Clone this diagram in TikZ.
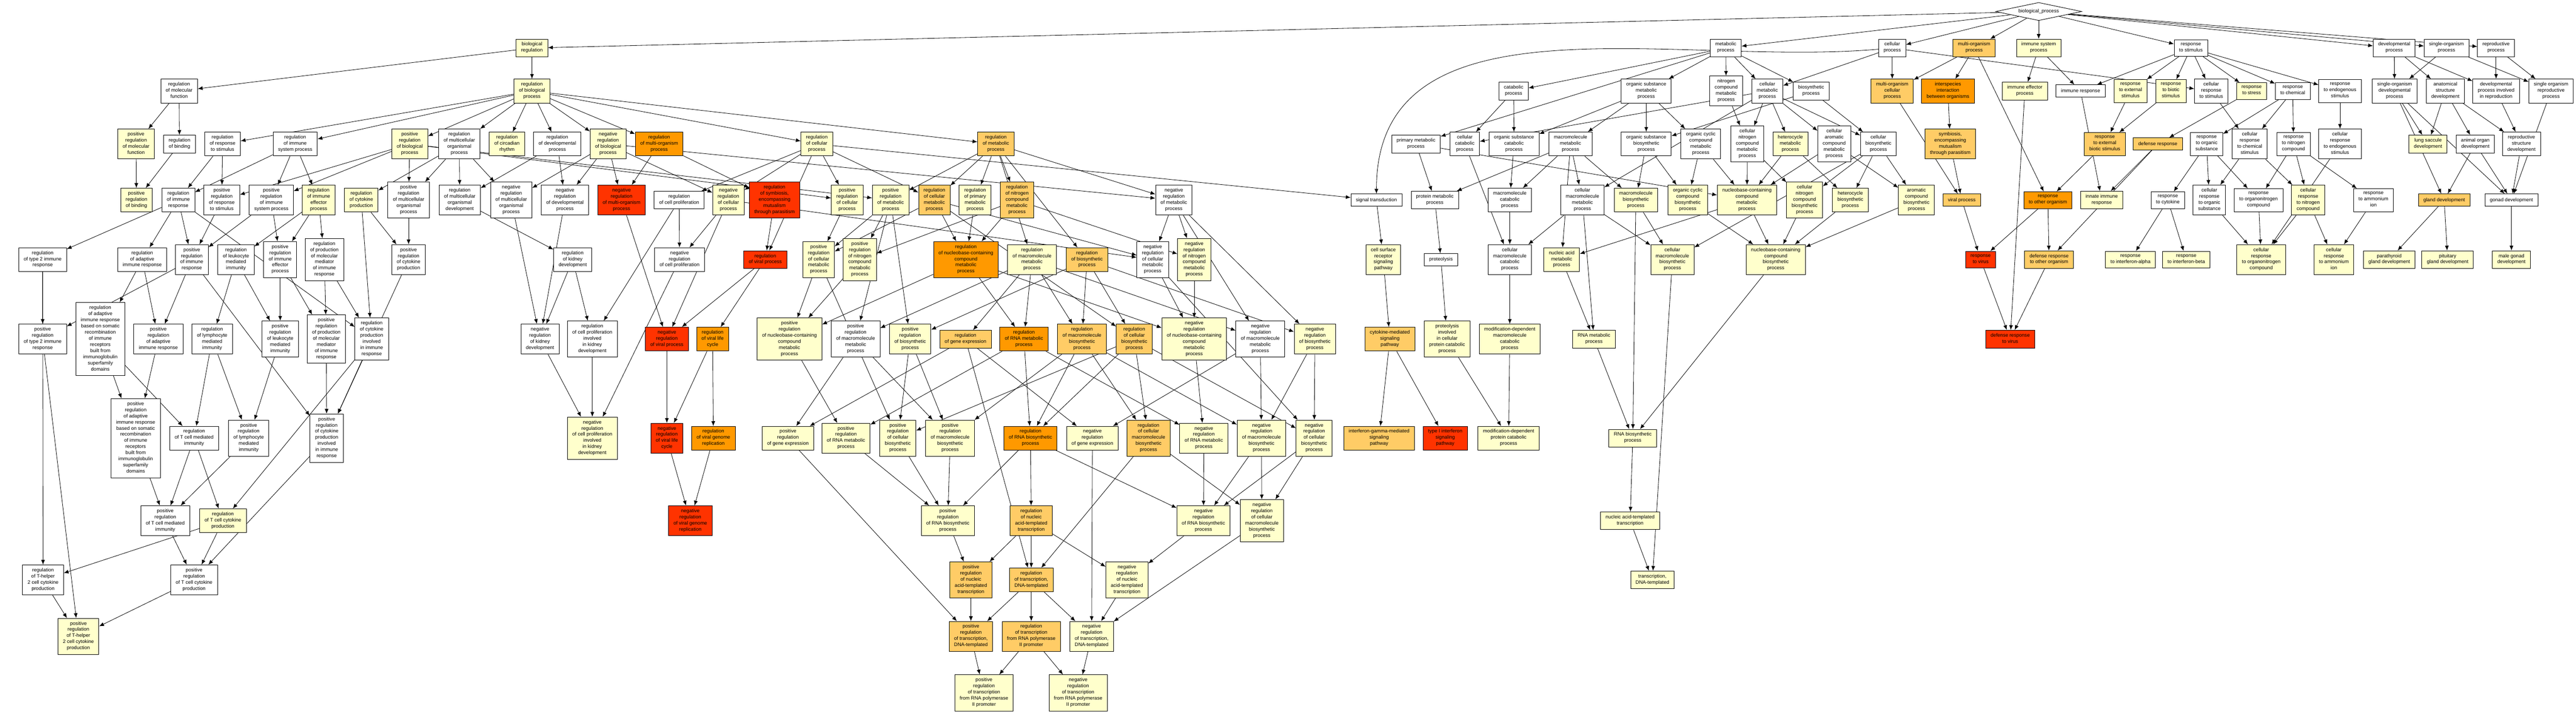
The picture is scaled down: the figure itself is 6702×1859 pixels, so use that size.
\documentclass[tikz,border=0pt]{standalone}
\usepackage{fontspec}
\setmainfont{Liberation Sans}
\usetikzlibrary{arrows.meta,shapes.geometric,backgrounds}
\definecolor{pvnone}{HTML}{FFFFFF}
\definecolor{pvlow}{HTML}{FFFFCC}
\definecolor{pvmid}{HTML}{FFCC66}
\definecolor{pvhigh}{HTML}{FF9900}
\definecolor{pvtop}{HTML}{FF3300}
\tikzset{
  term/.style={draw, line width=0.6pt, align=center, inner xsep=6.5pt, inner ysep=4pt,
    font=\fontsize{6.4pt}{8pt}\selectfont, execute at begin node=\strut, execute at end node=\strut},
  t0/.style={term, fill=pvnone},
  t1/.style={term, fill=pvlow},
  t2/.style={term, fill=pvmid},
  t3/.style={term, fill=pvhigh},
  t4/.style={term, fill=pvtop},
  rootterm/.style={draw, diamond, aspect=4.8, inner sep=0pt, line width=0.6pt, fill=white,
    minimum width=112pt, minimum height=23.5pt, font=\fontsize{6.4pt}{8pt}\selectfont},
  isa/.style={-{Latex[length=6.3pt,width=5pt]}, line width=0.55pt}
}
\begin{document}
\begin{tikzpicture}[x=0.5pt,y=-0.5pt]
    \useasboundingbox (0,0) rectangle (6702,1859);
    % one row of terms per rank, top to bottom
    \node[rootterm] (bioproc) at (5304,30) {biological\_process};

    \node[t1] (bioreg) at (1384,125) {biological\\regulation};
    \node[t0] (metproc) at (4490,125) {metabolic\\process};
    \node[t0] (cellproc) at (4923,125) {cellular\\process};
    \node[t2] (multiorg) at (5136,125) {multi-organism\\process};
    \node[t1] (immsys) at (5304,125) {immune system\\process};
    \node[t0] (respstim) at (5700,125) {response\\to stimulus};
    \node[t0] (devproc) at (6229,125) {developmental\\process};
    \node[t0] (singleorg) at (6365,125) {single-organism\\process};
    \node[t0] (reproproc) at (6494,125) {reproductive\\process};

    \node[t0] (regmolfunc) at (466,237) {regulation\\of molecular\\function};
    \node[t1] (regbioproc) at (1384,237) {regulation\\of biological\\process};
    \node[t0] (catabolic) at (3938,237) {catabolic\\process};
    \node[t0] (orgsubmet) at (4283,237) {organic substance\\metabolic\\process};
    \node[t0] (nitromet) at (4491,237) {nitrogen\\compound\\metabolic\\process};
    \node[t0] (cellmet) at (4598,237) {cellular\\metabolic\\process};
    \node[t0] (biosyn) at (4712,237) {biosynthetic\\process};
    \node[t2] (multiorgcell) at (4923,237) {multi-organism\\cellular\\process};
    \node[t3] (interspecies) at (5068,237) {interspecies\\interaction\\between organisms};
    \node[t1] (immeff) at (5268,237) {immune effector\\process};
    \node[t0] (immresp) at (5413,237) {immune response};
    \node[t1] (respext) at (5543,237) {response\\to external\\stimulus};
    \node[t1] (respbiotic) at (5648,237) {response\\to biotic\\stimulus};
    \node[t0] (cellrespstim) at (5753,237) {cellular\\response\\to stimulus};
    \node[t1] (respstress) at (5858,237) {response\\to stress};
    \node[t0] (respchem) at (5965,237) {response\\to chemical};
    \node[t0] (respendo) at (6088,237) {response\\to endogenous\\stimulus};
    \node[t0] (singleorgdev) at (6230,237) {single-organism\\developmental\\process};
    \node[t0] (anatomical) at (6362,237) {anatomical\\structure\\development};
    \node[t0] (devrepro) at (6494,237) {developmental\\process involved\\in reproduction};
    \node[t0] (singleorgrepro) at (6637,237) {single organism\\reproductive\\process};

    \node[t1] (posregmolfunc) at (354,375) {positive\\regulation\\of molecular\\function};
    \node[t0] (regbinding) at (467,375) {regulation\\of binding};
    \node[t0] (regrespstim) at (579,375) {regulation\\of response\\to stimulus};
    \node[t0] (regimmsys) at (768,375) {regulation\\of immune\\system process};
    \node[t1] (posregbioproc) at (1066,375) {positive\\regulation\\of biological\\process};
    \node[t0] (regmulticellorg) at (1195,375) {regulation\\of multicellular\\organismal\\process};
    \node[t1] (regcirc) at (1319,375) {regulation\\of circadian\\rhythm};
    \node[t0] (regdev) at (1450,375) {regulation\\of developmental\\process};
    \node[t1] (negregbio) at (1582,375) {negative\\regulation\\of biological\\process};
    \node[t3] (regmultiorg) at (1715,375) {regulation\\of multi-organism\\process};
    \node[t1] (regcellproc) at (2125,375) {regulation\\of cellular\\process};
    \node[t2] (regmet) at (2591,375) {regulation\\of metabolic\\process};
    \node[t0] (primmet) at (3684,375) {primary metabolic\\process};
    \node[t0] (cellcatab) at (3811,375) {cellular\\catabolic\\process};
    \node[t0] (orgsubcatab) at (3939,375) {organic substance\\catabolic\\process};
    \node[t0] (macromet) at (4086,375) {macromolecule\\metabolic\\process};
    \node[t0] (orgsubbiosyn) at (4283,375) {organic substance\\biosynthetic\\process};
    \node[t0] (orgcyclicmet) at (4425,375) {organic cyclic\\compound\\metabolic\\process};
    \node[t0] (cellnitromet) at (4546,375) {cellular\\nitrogen\\compound\\metabolic\\process};
    \node[t1] (heteromet) at (4658,375) {heterocycle\\metabolic\\process};
    \node[t0] (cellaromatic) at (4772,375) {cellular\\aromatic\\compound\\metabolic\\process};
    \node[t0] (cellbiosyn) at (4887,375) {cellular\\biosynthetic\\process};
    \node[t2] (symbiosis) at (5074,375) {symbiosis,\\encompassing\\mutualism\\through parasitism};
    \node[t2] (respextbiotic) at (5476,375) {response\\to external\\biotic stimulus};
    \node[t2] (defense) at (5614,375) {defense response};
    \node[t0] (resporganic) at (5741,375) {response\\to organic\\substance};
    \node[t0] (cellrespchem) at (5853,375) {cellular\\response\\to chemical\\stimulus};
    \node[t0] (respnitro) at (5967,375) {response\\to nitrogen\\compound};
    \node[t0] (cellrespendo) at (6088,375) {cellular\\response\\to endogenous\\stimulus};
    \node[t1] (lung) at (6317,375) {lung saccule\\development};
    \node[t0] (animalorgan) at (6440,375) {animal organ\\development};
    \node[t0] (reprostruct) at (6560,375) {reproductive\\structure\\development};

    \node[t1] (posregbinding) at (355,521) {positive\\regulation\\of binding};
    \node[t0] (regimmresp) at (464,521) {regulation\\of immune\\response};
    \node[t0] (posregrespstim) at (577,521) {positive\\regulation\\of response\\to stimulus};
    \node[t0] (posregimmsys) at (706,521) {positive\\regulation\\of immune\\system process};
    \node[t1] (regimmeff) at (829,521) {regulation\\of immune\\effector\\process};
    \node[t1] (regcytprod) at (940,521) {regulation\\of cytokine\\production};
    \node[t0] (posregmulticell) at (1063,521) {positive\\regulation\\of multicellular\\organismal\\process};
    \node[t0] (regmulticelldev) at (1196,521) {regulation\\of multicellular\\organismal\\development};
    \node[t0] (negregmulticell) at (1330,521) {negative\\regulation\\of multicellular\\organismal\\process};
    \node[t0] (negregdev) at (1470,521) {negative\\regulation\\of developmental\\process};
    \node[t4] (negregmultiorg) at (1617,521) {negative\\regulation\\of multi-organism\\process};
    \node[t0] (regcellprolif) at (1767,521) {regulation\\of cell proliferation};
    \node[t1] (negregcell) at (1895,521) {negative\\regulation\\of cellular\\process};
    \node[t4] (regsymb) at (2015,521) {regulation\\of symbiosis,\\encompassing\\mutualism\\through parasitism};
    \node[t1] (posregcell) at (2204,521) {positive\\regulation\\of cellular\\process};
    \node[t1] (posregmet) at (2317,521) {positive\\regulation\\of metabolic\\process};
    \node[t2] (regcellmet) at (2431,521) {regulation\\of cellular\\metabolic\\process};
    \node[t1] (regprimmet) at (2537,521) {regulation\\of primary\\metabolic\\process};
    \node[t2] (regnitro) at (2646,521) {regulation\\of nitrogen\\compound\\metabolic\\process};
    \node[t0] (negregmet) at (3054,521) {negative\\regulation\\of metabolic\\process};
    \node[t0] (signal) at (3581,521) {signal transduction};
    \node[t0] (protmet) at (3733,521) {protein metabolic\\process};
    \node[t0] (macrocatab) at (3928,521) {macromolecule\\catabolic\\process};
    \node[t0] (cellmacromet) at (4117,521) {cellular\\macromolecule\\metabolic\\process};
    \node[t1] (macrobiosyn) at (4256,521) {macromolecule\\biosynthetic\\process};
    \node[t1] (orgcyclicbiosyn) at (4391,521) {organic cyclic\\compound\\biosynthetic\\process};
    \node[t1] (nucleomet) at (4545,521) {nucleobase-containing\\compound\\metabolic\\process};
    \node[t1] (cellnitrobiosyn) at (4695,521) {cellular\\nitrogen\\compound\\biosynthetic\\process};
    \node[t1] (heterobiosyn) at (4814,521) {heterocycle\\biosynthetic\\process};
    \node[t1] (aromaticbiosyn) at (4986,521) {aromatic\\compound\\biosynthetic\\process};
    \node[t2] (viralproc) at (5104,521) {viral process};
    \node[t3] (respother) at (5328,521) {response\\to other organism};
    \node[t1] (innate) at (5468,521) {innate immune\\response};
    \node[t0] (respcytokine) at (5640,521) {response\\to cytokine};
    \node[t0] (cellresporganic) at (5748,521) {cellular\\response\\to organic\\substance};
    \node[t0] (resporganonitro) at (5876,521) {response\\to organonitrogen\\compound};
    \node[t1] (cellrespnitro) at (6005,521) {cellular\\response\\to nitrogen\\compound};
    \node[t0] (respammonium) at (6175,521) {response\\to ammonium\\ion};
    \node[t2] (gland) at (6359,521) {gland development};
    \node[t0] (gonad) at (6534,521) {gonad development};

    \node[t0] (regtype2) at (111,676) {regulation\\of type 2 immune\\response};
    \node[t0] (regadaptive) at (370,676) {regulation\\of adaptive\\immune response};
    \node[t0] (posregimmresp) at (499,676) {positive\\regulation\\of immune\\response};
    \node[t0] (regleukmed) at (614,676) {regulation\\of leukocyte\\mediated\\immunity};
    \node[t0] (posregimmeff) at (729,676) {positive\\regulation\\of immune\\effector\\process};
    \node[t0] (regprodmolmed) at (844,676) {regulation\\of production\\of molecular\\mediator\\of immune\\response};
    \node[t0] (posregcytprod) at (1063,676) {positive\\regulation\\of cytokine\\production};
    \node[t0] (regkidney) at (1490,676) {regulation\\of kidney\\development};
    \node[t0] (negregprolif) at (1768,676) {negative\\regulation\\of cell proliferation};
    \node[t4] (regviral) at (1991,676) {regulation\\of viral process};
    \node[t1] (posregcellmet) at (2130,676) {positive\\regulation\\of cellular\\metabolic\\process};
    \node[t1] (posregnitro) at (2237,676) {positive\\regulation\\of nitrogen\\compound\\metabolic\\process};
    \node[t3] (regnucleo) at (2513,676) {regulation\\of nucleobase-containing\\compound\\metabolic\\process};
    \node[t1] (regmacromet) at (2685,676) {regulation\\of macromolecule\\metabolic\\process};
    \node[t2] (regbiosyn) at (2828,676) {regulation\\of biosynthetic\\process};
    \node[t0] (negregcellmet) at (2999,676) {negative\\regulation\\of cellular\\metabolic\\process};
    \node[t1] (negregnitro) at (3107,676) {negative\\regulation\\of nitrogen\\compound\\metabolic\\process};
    \node[t1] (cellsurf) at (3599,676) {cell surface\\receptor\\signaling\\pathway};
    \node[t0] (proteolysis) at (3749,676) {proteolysis};
    \node[t0] (cellmacrocatab) at (3928,676) {cellular\\macromolecule\\catabolic\\process};
    \node[t1] (nucleicmet) at (4063,676) {nucleic acid\\metabolic\\process};
    \node[t1] (cellmacrobiosyn) at (4351,676) {cellular\\macromolecule\\biosynthetic\\process};
    \node[t1] (nucleobiosyn) at (4620,676) {nucleobase-containing\\compound\\biosynthetic\\process};
    \node[t4] (respvirus) at (5153,676) {response\\to virus};
    \node[t2] (defother) at (5331,676) {defense response\\to other organism};
    \node[t1] (respifnalpha) at (5543,676) {response\\to interferon-alpha};
    \node[t1] (respifnbeta) at (5688,676) {response\\to interferon-beta};
    \node[t1] (cellresporganonitro) at (5883,676) {cellular\\response\\to organonitrogen\\compound};
    \node[t1] (cellrespammonium) at (6072,676) {cellular\\response\\to ammonium\\ion};
    \node[t1] (parathyroid) at (6216,676) {parathyroid\\gland development};
    \node[t1] (pituitary) at (6368,676) {pituitary\\gland development};
    \node[t1] (malegonad) at (6534,676) {male gonad\\development};

    \node[t0] (posregtype2) at (111,883) {positive\\regulation\\of type 2 immune\\response};
    \node[t0] (regadaptsomatic) at (261,883) {regulation\\of adaptive\\immune response\\based on somatic\\recombination\\of immune\\receptors\\built from\\immunoglobulin\\superfamily\\domains};
    \node[t0] (posregadaptive) at (412,883) {positive\\regulation\\of adaptive\\immune response};
    \node[t0] (reglymphmed) at (552,883) {regulation\\of lymphocyte\\mediated\\immunity};
    \node[t0] (posregleukmed) at (729,883) {positive\\regulation\\of leukocyte\\mediated\\immunity};
    \node[t0] (posregprodmolmed) at (849,883) {positive\\regulation\\of production\\of molecular\\mediator\\of immune\\response};
    \node[t0] (regcytimm) at (967,883) {regulation\\of cytokine\\production\\involved\\in immune\\response};
    \node[t0] (negregkidney) at (1405,883) {negative\\regulation\\of kidney\\development};
    \node[t0] (regprolifkidney) at (1541,883) {regulation\\of cell proliferation\\involved\\in kidney\\development};
    \node[t4] (negregviral) at (1735,883) {negative\\regulation\\of viral process};
    \node[t3] (regviralcycle) at (1854,883) {regulation\\of viral life\\cycle};
    \node[t1] (posregnucleo) at (2054,883) {positive\\regulation\\of nucleobase-containing\\compound\\metabolic\\process};
    \node[t0] (posregmacro) at (2226,883) {positive\\regulation\\of macromolecule\\metabolic\\process};
    \node[t1] (posregbiosyn) at (2368,883) {positive\\regulation\\of biosynthetic\\process};
    \node[t2] (reggeneexp) at (2512,883) {regulation\\of gene expression};
    \node[t3] (regRNAmet) at (2664,883) {regulation\\of RNA metabolic\\process};
    \node[t2] (regmacrobiosyn) at (2815,883) {regulation\\of macromolecule\\biosynthetic\\process};
    \node[t2] (regcellbiosyn) at (2951,883) {regulation\\of cellular\\biosynthetic\\process};
    \node[t1] (negregnucleo) at (3107,883) {negative\\regulation\\of nucleobase-containing\\compound\\metabolic\\process};
    \node[t0] (negregmacromet) at (3279,883) {negative\\regulation\\of macromolecule\\metabolic\\process};
    \node[t1] (negregbiosyn) at (3421,883) {negative\\regulation\\of biosynthetic\\process};
    \node[t2] (cytokinesig) at (3616,883) {cytokine-mediated\\signaling\\pathway};
    \node[t1] (proteolysiscat) at (3765,883) {proteolysis\\involved\\in cellular\\protein catabolic\\process};
    \node[t1] (moddepmacro) at (3928,883) {modification-dependent\\macromolecule\\catabolic\\process};
    \node[t1] (RNAmet) at (4147,883) {RNA metabolic\\process};
    \node[t4] (defvirus) at (5230,883) {defense response\\to virus};

    \node[t0] (posregadaptsomatic) at (353,1141) {positive\\regulation\\of adaptive\\immune response\\based on somatic\\recombination\\of immune\\receptors\\built from\\immunoglobulin\\superfamily\\domains};
    \node[t0] (regTmed) at (505,1141) {regulation\\of T cell mediated\\immunity};
    \node[t0] (posreglymphmed) at (647,1141) {positive\\regulation\\of lymphocyte\\mediated\\immunity};
    \node[t0] (posregcytimm) at (850,1141) {positive\\regulation\\of cytokine\\production\\involved\\in immune\\response};
    \node[t1] (negregprolifkidney) at (1541,1141) {negative\\regulation\\of cell proliferation\\involved\\in kidney\\development};
    \node[t4] (negregviralcycle) at (1735,1141) {negative\\regulation\\of viral life\\cycle};
    \node[t3] (regviralgenome) at (1856,1141) {regulation\\of viral genome\\replication};
    \node[t1] (posreggeneexp) at (2050,1141) {positive\\regulation\\of gene expression};
    \node[t1] (posregRNAmet) at (2201,1141) {positive\\regulation\\of RNA metabolic\\process};
    \node[t1] (posregcellbiosyn) at (2336,1141) {positive\\regulation\\of cellular\\biosynthetic\\process};
    \node[t1] (posregmacrobiosyn) at (2472,1141) {positive\\regulation\\of macromolecule\\biosynthetic\\process};
    \node[t3] (regRNAbiosyn) at (2681,1141) {regulation\\of RNA biosynthetic\\process};
    \node[t1] (negreggeneexp) at (2842,1141) {negative\\regulation\\of gene expression};
    \node[t2] (regcellmacrobiosyn) at (2988,1141) {regulation\\of cellular\\macromolecule\\biosynthetic\\process};
    \node[t1] (negregRNAmet) at (3132,1141) {negative\\regulation\\of RNA metabolic\\process};
    \node[t1] (negregmacrobiosyn) at (3282,1141) {negative\\regulation\\of macromolecule\\biosynthetic\\process};
    \node[t1] (negregcellbiosyn) at (3419,1141) {negative\\regulation\\of cellular\\biosynthetic\\process};
    \node[t2] (ifngamma) at (3588,1141) {interferon-gamma-mediated\\signaling\\pathway};
    \node[t4] (typeIifn) at (3760,1141) {type I interferon\\signaling\\pathway};
    \node[t1] (moddepprot) at (3925,1141) {modification-dependent\\protein catabolic\\process};
    \node[t1] (RNAbiosyn) at (4248,1141) {RNA biosynthetic\\process};

    \node[t0] (posregTmed) at (430,1356) {positive\\regulation\\of T cell mediated\\immunity};
    \node[t1] (regTcyt) at (580,1356) {regulation\\of T cell cytokine\\production};
    \node[t4] (negregviralgenome) at (1796,1356) {negative\\regulation\\of viral genome\\replication};
    \node[t1] (posregRNAbiosyn) at (2466,1356) {positive\\regulation\\of RNA biosynthetic\\process};
    \node[t2] (regnucleictrans) at (2683,1356) {regulation\\of nucleic\\acid-templated\\transcription};
    \node[t1] (negregRNAbiosyn) at (3131,1356) {negative\\regulation\\of RNA biosynthetic\\process};
    \node[t1] (negregcellmacrobiosyn) at (3283,1356) {negative\\regulation\\of cellular\\macromolecule\\biosynthetic\\process};
    \node[t1] (nucleictrans) at (4241,1356) {nucleic acid-templated\\transcription};

    \node[t0] (regTh2) at (112,1510) {regulation\\of T-helper\\2 cell cytokine\\production};
    \node[t0] (posregTcyt) at (505,1510) {positive\\regulation\\of T cell cytokine\\production};
    \node[t2] (posregnucleictrans) at (2526,1510) {positive\\regulation\\of nucleic\\acid-templated\\transcription};
    \node[t2] (regtransDNA) at (2683,1510) {regulation\\of transcription,\\DNA-templated};
    \node[t1] (negregnucleictrans) at (2932,1510) {negative\\regulation\\of nucleic\\acid-templated\\transcription};
    \node[t1] (transDNA) at (4299,1510) {transcription,\\DNA-templated};

    \node[t1] (posregTh2) at (204,1657) {positive\\regulation\\of T-helper\\2 cell cytokine\\production};
    \node[t2] (posregtransDNA) at (2526,1657) {positive\\regulation\\of transcription,\\DNA-templated};
    \node[t2] (regtransPolII) at (2683,1657) {regulation\\of transcription\\from RNA polymerase\\II promoter};
    \node[t1] (negregtransDNA) at (2840,1657) {negative\\regulation\\of transcription,\\DNA-templated};

    \node[t1] (posregtransPolII) at (2560,1804) {positive\\regulation\\of transcription\\from RNA polymerase\\II promoter};
    \node[t1] (negregtransPolII) at (2805,1804) {negative\\regulation\\of transcription\\from RNA polymerase\\II promoter};

    \begin{pgfonlayer}{background}
    \fill[white] (0,0) rectangle (6702,1859);
    \path[isa] (bioproc) edge (bioreg) edge (metproc) edge (cellproc) edge (multiorg) edge (immsys)
      edge (respstim) edge (devproc) edge (singleorg) edge (reproproc);
    \path[isa] (bioreg) edge (regbioproc) edge (regmolfunc);
    \path[isa] (regbioproc) edge (regrespstim) edge (regimmsys) edge (posregbioproc) edge (regmulticellorg)
      edge (regcirc) edge (regdev) edge (negregbio) edge (regmultiorg) edge (regcellproc) edge (regmet);
    \path[isa] (regmolfunc) edge (posregmolfunc) edge (regbinding);
    \path[isa] (posregmolfunc) edge (posregbinding);
    \path[isa] (regbinding) edge (posregbinding);
    \path[isa] (regrespstim) edge (regimmresp) edge (posregrespstim);
    \path[isa] (regimmsys) edge (regimmresp) edge (posregimmsys) edge (regimmeff);
    \path[isa] (posregbioproc) edge (posregrespstim) edge (posregimmsys) edge (posregmulticell)
      edge (posregcell) edge (posregmet);
    \path[isa] (regmulticellorg) edge (regcytprod) edge (posregmulticell) edge (regmulticelldev) edge (negregmulticell);
    \path[isa] (regdev) edge (regmulticelldev) edge (negregdev);
    \path[isa] (negregbio) edge (negregmulticell) edge (negregdev) edge (negregmultiorg) edge (negregcell) edge (negregmet);
    \path[isa] (regmultiorg) edge (negregmultiorg) edge (regsymb);
    \path[isa] (regcellproc) edge (regcellprolif) edge (negregcell) edge (posregcell) edge (regviral)
      edge (regcellmet) edge (signal);
    \path[isa] (regimmresp) edge (regtype2) edge (regadaptive) edge (posregimmresp) edge (regcytimm);
    \path[isa] (posregrespstim) edge (posregimmresp);
    \path[isa] (posregimmsys) edge (posregimmresp) edge (posregimmeff);
    \path[isa] (regimmeff) edge (regleukmed) edge (posregimmeff) edge (regprodmolmed);
    \path[isa] (regcytprod) edge (posregcytprod) edge (regcytimm);
    \path[isa] (posregmulticell) edge (posregcytprod);
    \path[isa] (regtype2) edge (posregtype2) edge (regTh2);
    \path[isa] (regadaptive) edge (regadaptsomatic) edge (posregadaptive);
    \path[isa] (posregimmresp) edge (posregtype2) edge (posregadaptive) edge (posregcytimm);
    \path[isa] (regleukmed) edge (reglymphmed) edge (posregleukmed);
    \path[isa] (posregimmeff) edge (posregleukmed) edge (posregprodmolmed);
    \path[isa] (regprodmolmed) edge (posregprodmolmed) edge (regcytimm);
    \path[isa] (posregcytprod) edge (posregcytimm);
    \path[isa] (posregtype2) edge (posregTh2);
    \path[isa] (regadaptsomatic) edge (posregadaptsomatic) edge (regTmed);
    \path[isa] (posregadaptive) edge (posregadaptsomatic);
    \path[isa] (reglymphmed) edge (regTmed) edge (posreglymphmed);
    \path[isa] (posregleukmed) edge (posreglymphmed);
    \path[isa] (posregprodmolmed) edge (posregcytimm);
    \path[isa] (regcytimm) edge (posregcytimm) edge (regTcyt);
    \path[isa] (posregadaptsomatic) edge (posregTmed);
    \path[isa] (regTmed) edge (posregTmed) edge (regTcyt);
    \path[isa] (posreglymphmed) edge (posregTmed);
    \path[isa] (posregcytimm) edge (posregTcyt);
    \path[isa] (posregTmed) edge (posregTcyt);
    \path[isa] (regTcyt) edge (regTh2) edge (posregTcyt);
    \path[isa] (regTh2) edge (posregTh2);
    \path[isa] (posregTcyt) edge (posregTh2);
    \path[isa] (regmulticelldev) edge (regkidney);
    \path[isa] (negregmulticell) edge (negregkidney);
    \path[isa] (negregdev) edge (negregkidney);
    \path[isa] (negregmultiorg) edge (negregviral);
    \path[isa] (regcellprolif) edge (negregprolif) edge (regprolifkidney);
    \path[isa] (negregcell) edge (negregprolif) edge (negregviral) edge (negregcellmet);
    \path[isa] (regsymb) edge (regviral);
    \path[isa] (posregcell) edge (posregcellmet);
    \path[isa] (regkidney) edge (negregkidney) edge (regprolifkidney);
    \path[isa] (negregprolif) edge (negregprolifkidney);
    \path[isa] (regviral) edge (negregviral) edge (regviralcycle);
    \path[isa] (posregcellmet) edge (posregnucleo) edge (posregcellbiosyn);
    \path[isa] (posregnitro) edge (posregnucleo);
    \path[isa] (negregkidney) edge (negregprolifkidney);
    \path[isa] (regprolifkidney) edge (negregprolifkidney);
    \path[isa] (negregviral) edge (negregviralcycle);
    \path[isa] (regviralcycle) edge (negregviralcycle) edge (regviralgenome);
    \path[isa] (negregviralcycle) edge (negregviralgenome);
    \path[isa] (regviralgenome) edge (negregviralgenome);
    \path[isa] (posregnucleo) edge (posregRNAmet);
    \path[isa] (posregmacro) edge (posreggeneexp) edge (posregmacrobiosyn);
    \path[isa] (posregbiosyn) edge (posregcellbiosyn) edge (posregmacrobiosyn);
    \path[isa] (regmet) edge (posregmet) edge (regcellmet) edge (regprimmet) edge (regnitro)
      edge (negregmet) edge (regmacromet) edge (regbiosyn);
    \path[isa] (posregmet) edge (posregcellmet) edge (posregnitro) edge (posregmacro) edge (posregbiosyn);
    \path[isa] (regcellmet) edge (posregcellmet) edge (regnucleo) edge (negregcellmet) edge (regcellbiosyn);
    \path[isa] (regprimmet) edge (regnucleo);
    \path[isa] (regnitro) edge (regnucleo) edge (posregnitro) edge (negregnitro);
    \path[isa] (negregmet) edge (negregcellmet) edge (negregnitro) edge (negregmacromet) edge (negregbiosyn);
    \path[isa] (regnucleo) edge (posregnucleo) edge (regRNAmet) edge (negregnucleo);
    \path[isa] (regmacromet) edge (posregmacro) edge (reggeneexp) edge (regRNAmet) edge (regmacrobiosyn) edge (negregmacromet);
    \path[isa] (regbiosyn) edge (posregbiosyn) edge (regmacrobiosyn) edge (regcellbiosyn) edge (negregbiosyn);
    \path[isa] (negregcellmet) edge (negregnucleo) edge (negregcellbiosyn);
    \path[isa] (negregnitro) edge (negregnucleo);
    \path[isa] (reggeneexp) edge (posreggeneexp) edge (negreggeneexp) edge (regtransDNA);
    \path[isa] (regRNAmet) edge (posregRNAmet) edge (regRNAbiosyn) edge (negregRNAmet);
    \path[isa] (regmacrobiosyn) edge (posregmacrobiosyn) edge (regRNAbiosyn) edge (regcellmacrobiosyn) edge (negregmacrobiosyn);
    \path[isa] (regcellbiosyn) edge (posregcellbiosyn) edge (regRNAbiosyn) edge (regcellmacrobiosyn) edge (negregcellbiosyn);
    \path[isa] (negregnucleo) edge (negregRNAmet);
    \path[isa] (negregmacromet) edge (negreggeneexp) edge (negregmacrobiosyn);
    \path[isa] (negregbiosyn) edge (negregmacrobiosyn) edge (negregcellbiosyn);
    \path[isa] (posreggeneexp) edge (posregtransDNA);
    \path[isa] (posregRNAmet) edge (posregRNAbiosyn);
    \path[isa] (posregcellbiosyn) edge (posregRNAbiosyn);
    \path[isa] (posregmacrobiosyn) edge (posregRNAbiosyn);
    \path[isa] (regRNAbiosyn) edge (posregRNAbiosyn) edge (regnucleictrans) edge (negregRNAbiosyn);
    \path[isa] (negreggeneexp) edge (negregtransDNA);
    \path[isa] (regcellmacrobiosyn) edge (negregcellmacrobiosyn) edge (regtransDNA);
    \path[isa] (negregRNAmet) edge (negregRNAbiosyn);
    \path[isa] (negregmacrobiosyn) edge (negregRNAbiosyn) edge (negregcellmacrobiosyn);
    \path[isa] (negregcellbiosyn) edge (negregRNAbiosyn) edge (negregcellmacrobiosyn);
    \path[isa] (posregRNAbiosyn) edge (posregnucleictrans);
    \path[isa] (regnucleictrans) edge (posregnucleictrans) edge (regtransDNA) edge (negregnucleictrans);
    \path[isa] (negregRNAbiosyn) edge (negregnucleictrans);
    \path[isa] (negregcellmacrobiosyn) edge (negregtransDNA);
    \path[isa] (posregnucleictrans) edge (posregtransDNA);
    \path[isa] (regtransDNA) edge (posregtransDNA) edge (regtransPolII) edge (negregtransDNA);
    \path[isa] (negregnucleictrans) edge (negregtransDNA);
    \path[isa] (posregtransDNA) edge (posregtransPolII);
    \path[isa] (regtransPolII) edge (posregtransPolII) edge (negregtransPolII);
    \path[isa] (negregtransDNA) edge (negregtransPolII);
    \path[isa] (metproc) edge (catabolic) edge (orgsubmet) edge (primmet) edge (nitromet) edge (cellmet) edge (biosyn);
    \path[isa] (cellproc) edge[out=185,in=90] (signal) edge (cellmet) edge (multiorgcell) edge (cellrespstim);
    \path[isa] (catabolic) edge (cellcatab) edge (orgsubcatab);
    \path[isa] (orgsubmet) edge (orgsubcatab) edge (macromet) edge (orgsubbiosyn) edge (orgcyclicmet);
    \path[isa] (nitromet) edge (cellnitromet);
    \path[isa] (cellmet) edge (cellcatab) edge (cellmacromet) edge (cellnitromet) edge (heteromet)
      edge (cellaromatic) edge (cellbiosyn);
    \path[isa] (biosyn) edge (orgsubbiosyn) edge (cellbiosyn);
    \path[isa] (primmet) edge (protmet) edge (nucleomet);
    \path[isa] (cellcatab) edge (cellmacrocatab);
    \path[isa] (orgsubcatab) edge (macrocatab);
    \path[isa] (macromet) edge (protmet) edge (macrocatab) edge (cellmacromet) edge (macrobiosyn) edge (nucleicmet);
    \path[isa] (orgsubbiosyn) edge (orgcyclicbiosyn) edge (macrobiosyn);
    \path[isa] (orgcyclicmet) edge (orgcyclicbiosyn) edge (nucleomet);
    \path[isa] (cellnitromet) edge (nucleomet) edge (cellnitrobiosyn);
    \path[isa] (heteromet) edge (nucleomet) edge (heterobiosyn);
    \path[isa] (cellaromatic) edge (nucleomet) edge (aromaticbiosyn);
    \path[isa] (cellbiosyn) edge (cellnitrobiosyn) edge (heterobiosyn) edge (aromaticbiosyn) edge (cellmacrobiosyn);
    \path[isa] (signal) edge (cellsurf);
    \path[isa] (protmet) edge (proteolysis);
    \path[isa] (macrocatab) edge (cellmacrocatab);
    \path[isa] (cellmacromet) edge (cellmacrocatab) edge (cellmacrobiosyn) edge (RNAmet);
    \path[isa] (macrobiosyn) edge (cellmacrobiosyn) edge (RNAbiosyn);
    \path[isa] (orgcyclicbiosyn) edge (nucleobiosyn);
    \path[isa] (nucleomet) edge (nucleicmet) edge (nucleobiosyn);
    \path[isa] (cellnitrobiosyn) edge (nucleobiosyn);
    \path[isa] (heterobiosyn) edge (nucleobiosyn);
    \path[isa] (aromaticbiosyn) edge (nucleobiosyn);
    \path[isa] (cellsurf) edge (cytokinesig);
    \path[isa] (proteolysis) edge (proteolysiscat);
    \path[isa] (cellmacrocatab) edge (moddepmacro);
    \path[isa] (nucleicmet) edge (RNAmet);
    \path[isa] (cellmacrobiosyn) edge (transDNA);
    \path[isa] (nucleobiosyn) edge (RNAbiosyn);
    \path[isa] (cytokinesig) edge (ifngamma) edge (typeIifn);
    \path[isa] (proteolysiscat) edge (moddepprot);
    \path[isa] (moddepmacro) edge (moddepprot);
    \path[isa] (RNAmet) edge (RNAbiosyn);
    \path[isa] (RNAbiosyn) edge (nucleictrans);
    \path[isa] (nucleictrans) edge (transDNA);
    \path[isa] (multiorg) edge (multiorgcell) edge (interspecies) edge (respother);
    \path[isa] (multiorgcell) edge (viralproc);
    \path[isa] (interspecies) edge (symbiosis);
    \path[isa] (symbiosis) edge (viralproc);
    \path[isa] (viralproc) edge (respvirus);
    \path[isa] (immsys) edge (immeff) edge (immresp);
    \path[isa] (immeff) edge (defvirus);
    \path[isa] (immresp) edge (innate);
    \path[isa] (respstim) edge (immresp) edge (respext) edge (respbiotic) edge (cellrespstim)
      edge (respstress) edge (respchem) edge (respendo);
    \path[isa] (respext) edge (respextbiotic);
    \path[isa] (respbiotic) edge (respextbiotic);
    \path[isa] (respextbiotic) edge (respother);
    \path[isa] (respstress) edge (defense);
    \path[isa] (defense) edge (innate) edge (defother);
    \path[isa] (respother) edge (respvirus) edge (defother);
    \path[isa] (respvirus) edge (defvirus);
    \path[isa] (defother) edge (defvirus);
    \path[isa] (respchem) edge (resporganic) edge (cellrespchem) edge (respnitro);
    \path[isa] (cellrespstim) edge (cellrespchem);
    \path[isa] (respendo) edge (cellrespendo);
    \path[isa] (resporganic) edge (respcytokine) edge (cellresporganic) edge (resporganonitro);
    \path[isa] (cellrespchem) edge (cellresporganic) edge (cellrespnitro);
    \path[isa] (respnitro) edge (resporganonitro) edge (cellrespnitro) edge (respammonium);
    \path[isa] (cellrespendo) edge (cellresporganonitro);
    \path[isa] (respcytokine) edge (respifnalpha) edge (respifnbeta);
    \path[isa] (cellresporganic) edge (cellresporganonitro);
    \path[isa] (resporganonitro) edge (cellresporganonitro);
    \path[isa] (cellrespnitro) edge (cellresporganonitro) edge (cellrespammonium);
    \path[isa] (respammonium) edge (cellrespammonium);
    \path[isa] (devproc) edge (singleorgdev) edge (anatomical) edge (devrepro);
    \path[isa] (singleorg) edge (singleorgdev) edge (singleorgrepro);
    \path[isa] (reproproc) edge (devrepro) edge (singleorgrepro);
    \path[isa] (singleorgdev) edge (lung) edge (gland) edge (gonad);
    \path[isa] (anatomical) edge (lung) edge (animalorgan) edge (reprostruct);
    \path[isa] (devrepro) edge (reprostruct);
    \path[isa] (singleorgrepro) edge (gonad);
    \path[isa] (animalorgan) edge (gland) edge (gonad);
    \path[isa] (reprostruct) edge (gonad);
    \path[isa] (gland) edge (parathyroid) edge (pituitary);
    \path[isa] (gonad) edge (malegonad);
    \end{pgfonlayer}
\end{tikzpicture}
\end{document}
